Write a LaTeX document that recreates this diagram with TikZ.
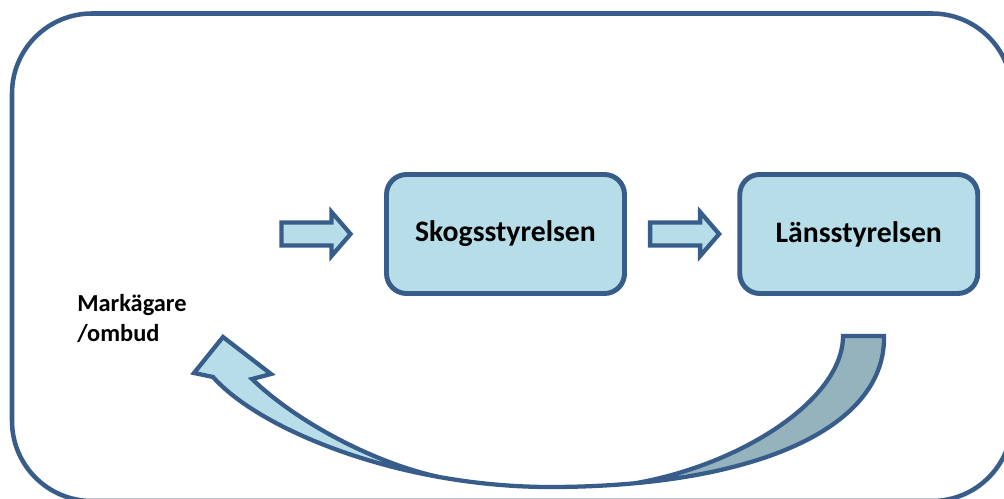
\documentclass[tikz,border=0pt]{standalone}
\usepackage{fontspec}
\setmainfont{Carlito}
\usetikzlibrary{calc}
\definecolor{kant}{RGB}{56,93,138}
\definecolor{ljusbla}{RGB}{183,222,232}
\definecolor{gratt}{RGB}{149,179,189}
\tikzset{
ruta/.style={draw=kant, line width=3.7pt, fill=ljusbla, rounded corners=15pt,
  minimum width=178.5pt, minimum height=89.25pt, font=\fontsize{22.3}{26}\selectfont\bfseries},
pilkant/.style={draw=kant, line width=3.2pt, line join=miter},
blockpil/.pic={\draw[pilkant, fill=ljusbla] (-34.5,-11.5) -- (15.5,-11.5) -- (15.5,-22) -- (34.5,0)
  -- (15.5,22) -- (15.5,11.5) -- (-34.5,11.5) -- cycle;}
}
\begin{document}
\begin{tikzpicture}[x=0.75pt,y=-0.75pt]
\useasboundingbox (0,0) rectangle (1004,499);
\clip (0,0) rectangle (1004,499);
\draw [kant, line width=3.4pt, rounded corners=60pt] (12,13.5) rectangle (1012,501);
\node [ruta] (skog) at (505.5,234) {Skogsstyrelsen};
\node [ruta] (lans) at (858.75,234) {Länsstyrelsen};
\pic at ($(skog.west)+(-68,0)$) {blockpil};
\pic at ($(skog.east)!0.5!(lans.west)+(2.5,0)$) {blockpil};
\node [anchor=north west, align=left, inner sep=0pt, font=\fontsize{18.3}{22.5}\selectfont\bfseries] (mark) at (77,294) {Markägare\\/ombud};
\fill [ljusbla] (223,337) -- (271,374) -- (252,379) .. controls (300,425) and (380,465) .. (440.7,477.3)
  .. controls (335.8,458.8) and (248.3,416.8) .. (213,377) -- (194,373) -- cycle;
\fill [gratt] (843,336) -- (884,336) .. controls (885.7,415.9) and (787.6,469.1) .. (635.4,483.2)
  .. controls (740,465) and (843,400) .. (843,336) -- cycle;
\draw [pilkant] (223,337) -- (271,374) -- (252,379) .. controls (300,425) and (380,465) .. (440.7,477.3)
  .. controls (475.6,483.4) and (512.5,487) .. (550,487) .. controls (580,487) and (608.6,485.7) .. (635.4,483.2)
  .. controls (740,465) and (843,400) .. (843,336) -- (884,336)
  .. controls (885.7,415.9) and (787.6,469.1) .. (635.4,483.2) .. controls (608.6,485.7) and (580,487) .. (550,487)
  .. controls (512.5,487) and (475.6,483.4) .. (440.7,477.3) .. controls (335.8,458.8) and (248.3,416.8) .. (213,377)
  -- (194,373) -- cycle;
\end{tikzpicture}
\end{document}
